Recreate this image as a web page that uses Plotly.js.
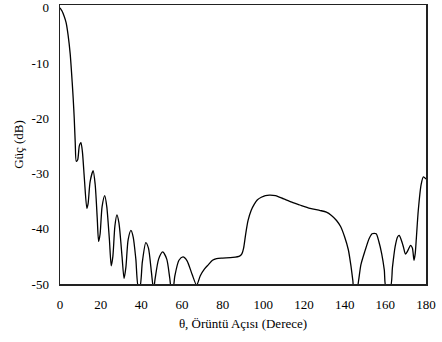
<!DOCTYPE html>
<html>
<head>
<meta charset="utf-8">
<script src="https://cdn.plot.ly/plotly-3.0.1.min.js"></script>
<style>html,body{margin:0;padding:0;background:#fff;}#chart{width:442px;height:342px;}</style>
</head>
<body>
<div id="chart"></div>
<script>
var theta = [0,1,2,3,4,5,6,6.5,7,7.5,8,8.7,9.5,10.3,11,12,13.2,13.8,14.8,16.3,17.3,18.3,19,19.7,20.7,22,23,24.3,25.2,26,27,28,29,30.5,31.5,32.4,33.5,34.9,36,37.3,38.5,39.3,40.5,42.2,43.5,45,46,46.8,48.5,50.5,52.5,54,54.8,55.5,56.5,58.5,60.5,62.5,65,67.2,69,71,73,75,77,80,85,88.5,89.5,90.3,91.3,92.5,94,95.5,97,99,101,103,106,110,114,118,123,128,131,133.5,136,138,140,141.8,143,144,144.6,146,146.8,148,150,152,153.5,155.5,156.8,158.2,159.5,160.3,162.5,163.5,164.8,166,166.8,167.8,168.9,169.9,171,172.4,173.3,174.1,174.7,175.2,176.2,177.6,178.7,180];
var gain = [0,-0.6,-1.5,-2.7,-5,-8.3,-13.5,-16.5,-20,-24.5,-27.8,-27.5,-25,-24.4,-26,-31,-36.3,-35.5,-31.5,-29.5,-32,-38,-42.3,-41,-36,-34,-36,-42,-46.7,-45,-39.5,-37.5,-39,-45,-49,-47,-42,-40.3,-41.5,-45.5,-50.5,-50.5,-46,-42.5,-43.5,-48,-51,-49,-45.5,-44.2,-45.5,-49,-51,-51,-48.5,-45.7,-45.1,-45.8,-48.3,-50.2,-48.5,-47.3,-46.5,-45.7,-45.4,-45.3,-45.2,-44.9,-44.5,-43.5,-41,-38.5,-36.7,-35.6,-34.8,-34.3,-34,-33.9,-34,-34.6,-35.2,-35.7,-36.3,-36.7,-37,-37.6,-38.5,-39.6,-41.5,-43.8,-46.5,-49.3,-51,-51,-49.5,-46.5,-44,-41.8,-40.9,-40.9,-42.3,-44.5,-47.5,-50.5,-50.5,-47,-43.3,-41.5,-41.2,-42,-43.3,-44.6,-44,-43,-43.5,-45.7,-44.5,-42,-36.7,-32,-30.6,-31];
var xTicks = [0,20,40,60,80,100,120,140,160,180];
var yTicks = [0,-10,-20,-30,-40,-50];
var xTitle = "θ, Örüntü Açısı (Derece)";
var yTitle = "Güç (dB)";

var font = {family: "Liberation Serif, Times New Roman, serif", size: 13, color: "#000"};
Plotly.newPlot("chart", [{
  x: theta, y: gain, type: "scatter", mode: "lines",
  line: {color: "#000", width: 1.3, shape: "spline", smoothing: 0.7},
  hoverinfo: "skip"
}], {
  width: 442, height: 342,
  margin: {l: 60, r: 16, t: 5, b: 58},
  paper_bgcolor: "#fff", plot_bgcolor: "#fff",
  font: font,
  showlegend: false,
  xaxis: {
    range: [0, 180], tickvals: xTicks, ticktext: xTicks.map(String),
    showgrid: false, zeroline: false, ticks: "",
    showline: true, mirror: true, linecolor: "#222", linewidth: 1.5,
    ticklabelstandoff: 8,
    tickfont: font,
    title: {text: xTitle, font: font, standoff: 8}
  },
  yaxis: {
    range: [-50, 0.5], tickvals: yTicks, ticktext: yTicks.map(String),
    showgrid: false, zeroline: false, ticks: "",
    showline: true, mirror: true, linecolor: "#222", linewidth: 1.5,
    ticklabelstandoff: 7,
    tickfont: font,
    title: {text: yTitle, font: font, standoff: 5}
  }
}, {staticPlot: true, displayModeBar: false});
</script>
</body>
</html>
